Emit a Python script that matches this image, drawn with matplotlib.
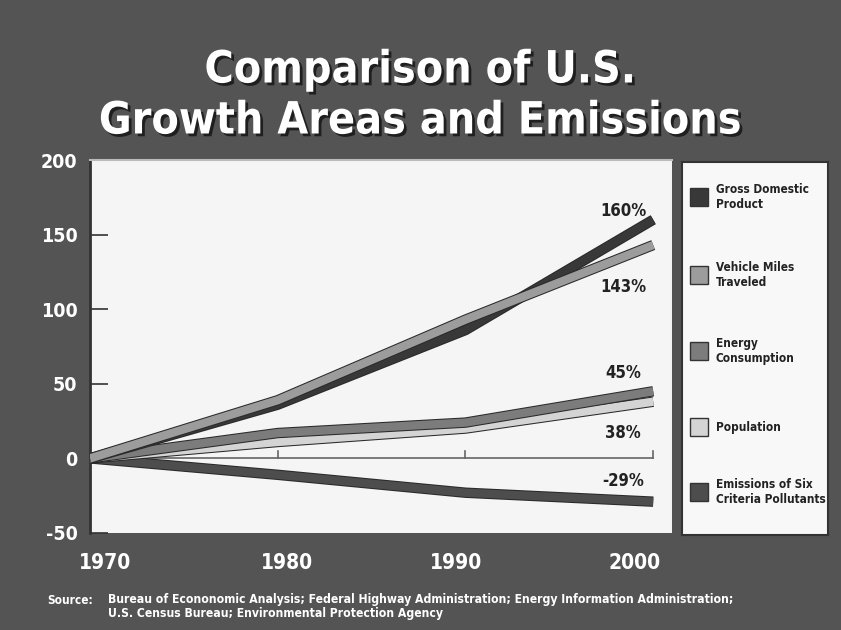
import matplotlib.pyplot as plt
import matplotlib.patheffects as pe
from matplotlib.patches import Rectangle

# Data: percent change since 1970
years = [1970, 1980, 1990, 2000]
gdp = [0, 36, 86, 160]
vmt = [0, 39, 93, 143]
energy = [0, 17, 24, 45]
population = [0, 11, 20, 38]
emissions = [0, -11, -23, -29]

series = {
    "Emissions of Six\nCriteria Pollutants": (emissions, "#4d4d4d"),
    "Population": (population, "#d4d4d4"),
    "Energy\nConsumption": (energy, "#7c7c7c"),
    "Gross Domestic\nProduct": (gdp, "#383838"),
    "Vehicle Miles\nTraveled": (vmt, "#9c9c9c"),
}
legend_order = ["Gross Domestic\nProduct", "Vehicle Miles\nTraveled",
                "Energy\nConsumption", "Population",
                "Emissions of Six\nCriteria Pollutants"]
end_labels = ["160%", "143%", "45%", "38%", "-29%"]
end_label_y = [166, 115, 57, 17, -15]

yticks = [-50, 0, 50, 100, 150, 200]
xticks = [1970, 1980, 1990, 2000]

bg = "#545454"
plt.rcParams["font.family"] = ["DejaVu Sans"]
cond = dict(family="DejaVu Sans", stretch="condensed", fontweight="bold")

fig = plt.figure(figsize=(8.41, 6.3), dpi=100, facecolor=bg)
ax = fig.add_axes([90 / 841, 97 / 630, 582 / 841, 373 / 630])
ax.set_facecolor("#f5f5f5")

# zero line with small ticks
ax.plot([1970, 2000], [0, 0], color="#666666", lw=1.2, zorder=1)
for x in xticks[1:]:
    ax.plot([x, x], [0, 5], color="#666666", lw=1.2, zorder=1)

for name, (vals, col) in series.items():
    ax.plot(years, vals, color=col, lw=6, solid_capstyle="butt",
            solid_joinstyle="round", zorder=3,
            path_effects=[pe.Stroke(linewidth=7.5, foreground="#2a2a2a"), pe.Normal()])

for txt, y in zip(end_labels, end_label_y):
    ax.text(1998.4, y, txt, ha="center", va="center", fontsize=12,
            color="#222222", **cond)

ax.set_xlim(1970, 2001)
ax.set_ylim(-50, 200)
ax.set_yticks(yticks)
ax.set_yticklabels([str(v) for v in yticks], fontsize=14, color="white", **cond)
ax.tick_params(axis="y", direction="in", length=13, width=1.2, color="#333333", pad=9)
ax.set_xticks([])
label_x = [1970.8, 1980.5, 1989.5, 1999.0]
for x, lx in zip(xticks, label_x):
    ax.text(lx, -70, str(x), ha="center", va="center", fontsize=15,
            color="white", **cond)

for s in ["right", "bottom"]:
    ax.spines[s].set_visible(False)
ax.spines["top"].set_color("#bbbbbb")
ax.spines["top"].set_linewidth(1.5)
ax.spines["left"].set_color("#333333")
ax.spines["left"].set_linewidth(2)

# legend panel
lax = fig.add_axes([682 / 841, 95 / 630, 146 / 841, 373 / 630])
lax.set_facecolor("#f8f8f8")
lax.set_xlim(0, 146)
lax.set_ylim(373, 0)
lax.set_xticks([])
lax.set_yticks([])
for s in lax.spines.values():
    s.set_color("#333333")
    s.set_linewidth(1.5)
legend_y = [35, 113, 189, 265, 330]
for name, yc in zip(legend_order, legend_y):
    col = series[name][1]
    lax.add_patch(Rectangle((8, yc - 9), 18, 18, facecolor=col, edgecolor="#333333", lw=1))
    lax.text(34, yc, name, ha="left", va="center", fontsize=8.5,
             color="#222222", linespacing=1.15, **cond)

shadow = [pe.withSimplePatchShadow(offset=(2, -2), shadow_rgbFace="#1a1a1a", alpha=0.9)]
fig.text(0.5, 1 - 70 / 630, "Comparison of U.S.", ha="center", va="center",
         fontsize=32, color="white", path_effects=shadow, **cond)
fig.text(0.5, 1 - 121 / 630, "Growth Areas and Emissions", ha="center", va="center",
         fontsize=32, color="white", path_effects=shadow, **cond)

fig.text(47 / 841, 1 - 600 / 630, "Source:", ha="left", va="center", fontsize=8.5,
         color="white", **cond)
fig.text(108 / 841, 1 - 606.5 / 630,
         "Bureau of Econonomic Analysis; Federal Highway Administration; Energy Information Administration;\n"
         "U.S. Census Bureau; Environmental Protection Agency",
         ha="left", va="center", fontsize=8.7, color="white", linespacing=1.2, **cond)

fig.savefig("out.png", dpi=100, facecolor=bg)
